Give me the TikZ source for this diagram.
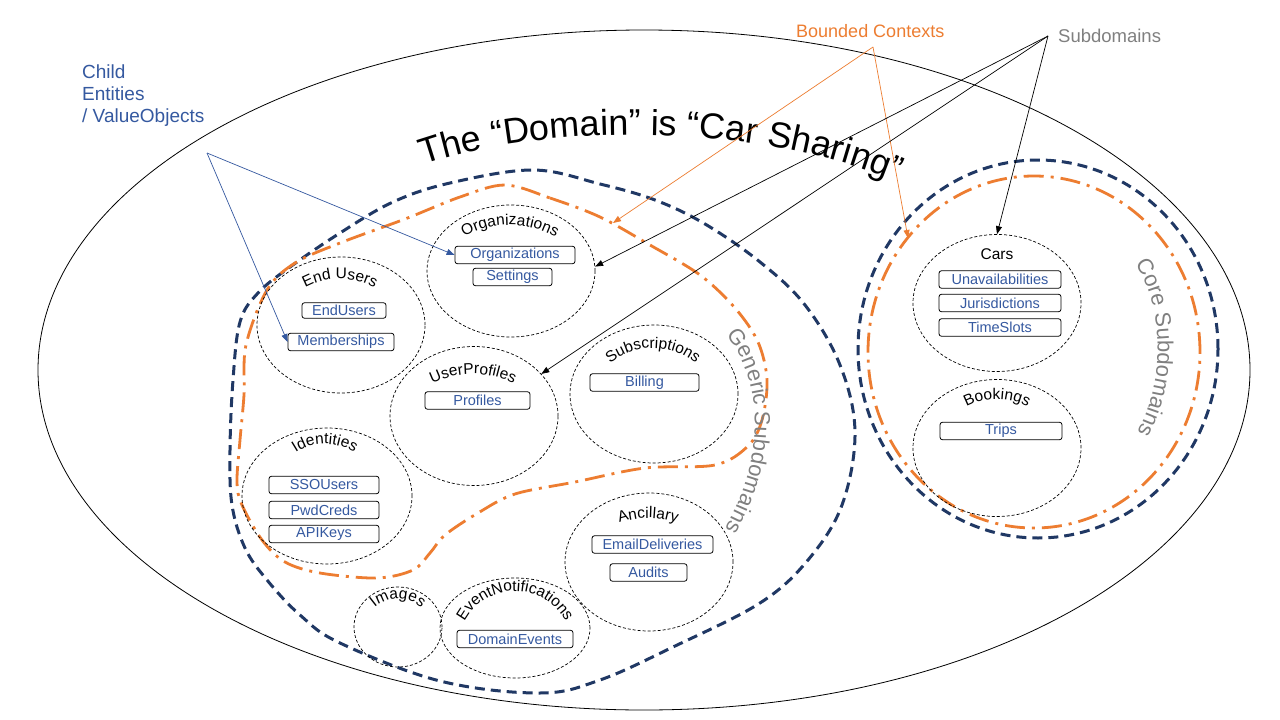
\documentclass[tikz,border=0pt]{standalone}
\usepackage{fontspec}
\setmainfont{Liberation Sans}
\usetikzlibrary{shapes.geometric,arrows.meta,decorations.text}
\definecolor{navy}{HTML}{203864}
\definecolor{bcorange}{HTML}{ED7D31}
\definecolor{boxblue}{HTML}{3559A0}
\definecolor{sdgray}{HTML}{808080}
% #2 cx, #3 baseline y at top, #4 radius, #5 half angle, #6 size, #7 text
\newcommand\arclabel[7][black]{%
  \pgfmathsetmacro\ccy{#3+#4}%
  \pgfmathsetmacro\aa{270-#5}%
  \pgfmathsetmacro\ac{270+#5}%
  \pgfmathsetmacro\kk{4/3*tan(#5/4)*#4}%
  \pgfmathsetmacro\pax{#2+#4*cos(\aa)}%
  \pgfmathsetmacro\pay{\ccy+#4*sin(\aa)}%
  \pgfmathsetmacro\qax{\pax-\kk*sin(\aa)}%
  \pgfmathsetmacro\qay{\pay+\kk*cos(\aa)}%
  \pgfmathsetmacro\pcx{#2+#4*cos(\ac)}%
  \pgfmathsetmacro\pcy{\ccy+#4*sin(\ac)}%
  \pgfmathsetmacro\qcx{\pcx+\kk*sin(\ac)}%
  \pgfmathsetmacro\qcy{\pcy-\kk*cos(\ac)}%
  \pgfmathsetmacro\mlx{#2-\kk}%
  \pgfmathsetmacro\mrx{#2+\kk}%
  \path[decorate, decoration={text along path, text align=center,
    text={|\fontsize{#6}{#6}\selectfont\color{#1}|#7}}]
    (\pax,\pay) .. controls (\qax,\qay) and (\mlx,#3) .. (#2,#3)
    .. controls (\mrx,#3) and (\qcx,\qcy) .. (\pcx,\pcy);}
\begin{document}
\begin{tikzpicture}[x=1pt,y=-1pt,
  circ/.style={ellipse, draw, line width=0.7pt, dash pattern=on 3pt off 2pt, inner sep=0pt},
  ebox/.style={draw, rounded corners=2.5pt, line width=0.8pt, minimum height=17.5pt,
    inner sep=0pt, text=boxblue, font=\fontsize{14.5}{16}\selectfont},
  arr/.style={-{Triangle[length=8pt,width=6pt]}, line width=0.7pt},
  lbl/.style={inner sep=0pt, font=\fontsize{15.5}{17}\selectfont}]
\useasboundingbox (0,0) rectangle (1280,720);
\fill[white] (0,0) rectangle (1280,720);

% outer domain ellipse
\draw[line width=0.8pt] (644,370) ellipse [x radius=606pt, y radius=340pt];

% title
\path[decorate, decoration={text along path, text align=center,
  text={|\fontsize{36}{40}\selectfont|The “Domain” is “Car Sharing”}}]
  (415,168) .. controls (530,124) and (760,118) .. (905,186);

% generic subdomain (navy dashed)
\draw[navy, line width=3pt, dash pattern=on 10pt off 6pt]
  plot[smooth cycle, tension=0.6] coordinates {(533,170) (600,184) (655,200) (705,224) (760,262) (805,305) (840,365) (855,432) (842,505) (808,560) (760,603) (673,647) (600,680) (540,693) (440,681) (340,643) (300,615) (267,580) (245,548) (232,505) (230,450) (233,380) (240,322) (258,293) (290,267) (340,233) (393,202) (450,183)};

% generic bounded context (orange dash-dot)
\draw[bcorange, line width=2.8pt, dash pattern=on 20pt off 7pt on 3pt off 7pt]
  plot[smooth cycle, tension=0.55] coordinates {(505,185) (550,198) (600,217) (650,245) (700,275) (735,308) (758,342) (767,380) (762,420) (748,446) (715,465) (645,468) (575,482) (515,494) (478,513) (445,535) (430,553) (413,570) (377,578) (320,573) (285,562) (262,540) (242,505) (237,482) (240,440) (244,395) (246,345) (267,290) (295,263) (340,243) (405,219) (460,197)};

% core subdomain
\draw[navy, line width=3pt, dash pattern=on 10pt off 6pt] (1038,349) ellipse [x radius=180pt, y radius=189pt];
\draw[bcorange, line width=2.8pt, dash pattern=on 20pt off 7pt on 3pt off 7pt] (1034,352) ellipse [x radius=166pt, y radius=176pt];

% curved subdomain labels
\path[decorate, decoration={text along path, text align=center,
  text={|\fontsize{22}{24}\selectfont\color{sdgray}|Generic Subdomains}}]
  (718,325) .. controls (767,375) and (767,465) .. (718,540);
\path[decorate, decoration={text along path, text align=center,
  text={|\fontsize{22}{24}\selectfont\color{sdgray}|Core Subdomains}}]
  (1128,255) .. controls (1167,300) and (1167,390) .. (1131,442);

% contexts (dashed circles)
\node[circ, minimum width=168pt, minimum height=132pt] (org) at (511,271) {};
\node[circ, minimum width=168pt, minimum height=136pt] (endu) at (341,325) {};
\node[circ, minimum width=168pt, minimum height=139pt] (up) at (474,416) {};
\node[circ, minimum width=168pt, minimum height=138pt] (subs) at (654,394) {};
\node[circ, minimum width=170pt, minimum height=136pt] (ident) at (327,496) {};
\node[circ, minimum width=168pt, minimum height=138pt] (anc) at (649,562) {};
\node[circ, minimum width=88pt, minimum height=80pt] (img) at (398,627) {};
\node[circ, minimum width=150pt, minimum height=100pt] (evn) at (515,628) {};
\node[circ, minimum width=168pt, minimum height=137pt] (cars) at (997,303) {};
\node[circ, minimum width=168pt, minimum height=137pt] (book) at (997,448) {};

% context labels
\arclabel{510}{225}{92}{45}{15.5}{Organizations}
\arclabel{340}{279}{72}{45}{15.5}{End Users}
\arclabel{473}{374}{93}{45}{15.5}{UserProfiles}
\arclabel{653}{348}{67}{55}{15.5}{Subscriptions}
\arclabel{325}{444}{53}{50}{15.5}{Identities}
\arclabel{648}{518}{84}{35}{15.5}{Ancillary}
\arclabel{398}{599}{35}{60}{15.5}{Images}
\arclabel{515}{591}{57}{78}{15.5}{EventNotifications}
\arclabel{997}{399}{64}{45}{15.5}{Bookings}
\node[lbl, anchor=base] (carslbl) at (997,259) {Cars};

% entity boxes
\node[ebox, minimum width=120pt] (orgbox) at (515,255) {Organizations};
\node[ebox, minimum width=79pt] (settings) at (512.5,277) {Settings};
\node[ebox, minimum width=84pt, minimum height=15.5pt] (enduserbox) at (344,310.5) {EndUsers};
\node[ebox, minimum width=106pt] (memb) at (341,342) {Memberships};
\node[ebox, minimum width=105pt] (profiles) at (477.5,400.5) {Profiles};
\node[ebox, minimum width=109pt] (billing) at (644.5,382.5) {Billing};
\node[ebox, minimum width=110pt] (sso) at (324,485) {SSOUsers};
\node[ebox, minimum width=110pt] (pwd) at (324,510) {PwdCreds};
\node[ebox, minimum width=110pt] (api) at (324,534) {APIKeys};
\node[ebox, minimum width=121pt] (email) at (652.5,544.5) {EmailDeliveries};
\node[ebox, minimum width=77pt] (audits) at (648.5,572.5) {Audits};
\node[ebox, minimum width=116pt] (domev) at (515,639) {DomainEvents};
\node[ebox, minimum width=122pt] (unav) at (1000,279.5) {Unavailabilities};
\node[ebox, minimum width=122pt] (juris) at (1000,303) {Jurisdictions};
\node[ebox, minimum width=122pt] (slots) at (1000,327.5) {TimeSlots};
\node[ebox, minimum width=122pt] (trips) at (1001,431) {Trips};

% legend labels
\node[anchor=north west, inner sep=0pt, align=left, text=boxblue,
  font=\fontsize{19}{22}\selectfont] (child) at (82,65) {Child\\Entities\\/ ValueObjects};
\node[anchor=base west, inner sep=0pt, text=bcorange, font=\fontsize{18}{20}\selectfont] (bc) at (796,37) {Bounded Contexts};
\node[anchor=base west, inner sep=0pt, text=sdgray, font=\fontsize{18.5}{20}\selectfont] (sd) at (1058,42.5) {Subdomains};

% connector vertices and targets
\coordinate (bv) at (207,153);
\coordinate (ov) at (873,47);
\coordinate (sv) at (1048,36);
\coordinate (gbc) at (613,223);
\coordinate (cbc) at (908,238);

\draw[arr, boxblue] (bv) -- (orgbox.west);
\draw[arr, boxblue] (bv) -- (memb.west);
\draw[arr, bcorange] (ov) -- (gbc);
\draw[arr, bcorange] (ov) -- (cbc);
\draw[arr] (sv) -- (org.3);
\draw[arr] (sv) -- (up.32);
\draw[arr] (sv) -- (cars.north);
\end{tikzpicture}
\end{document}
